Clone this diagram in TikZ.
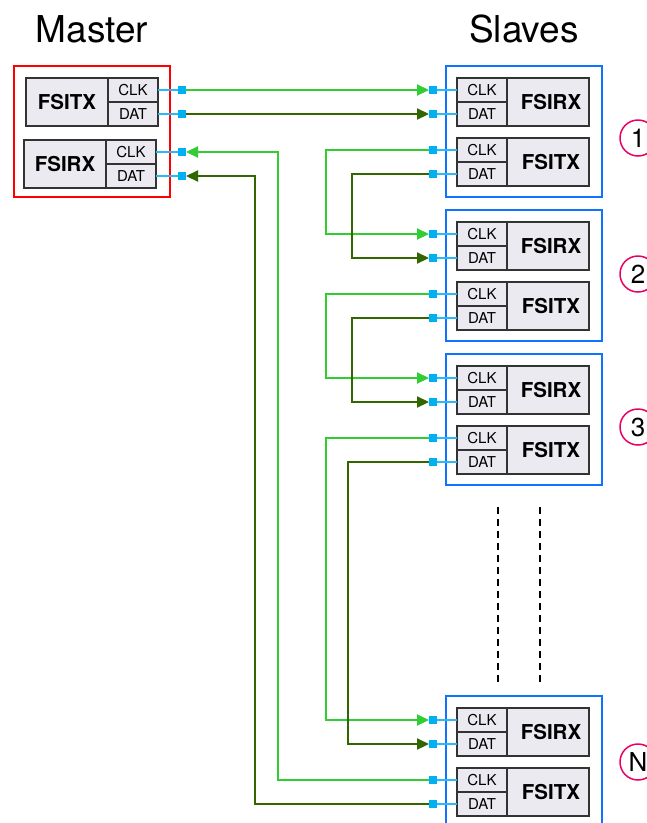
\documentclass[tikz,border=0pt]{standalone}
\usepackage{fontspec}
\setmainfont{TeX Gyre Heros}
\usetikzlibrary{arrows.meta,positioning}

\definecolor{blockfill}{RGB}{236,234,241}
\definecolor{clkgreen}{RGB}{50,205,50}
\definecolor{datgreen}{RGB}{51,102,0}
\definecolor{portblue}{RGB}{0,176,240}
\definecolor{stubblue}{RGB}{40,185,250}
\definecolor{slaveblue}{RGB}{15,115,255}
\definecolor{numred}{RGB}{232,0,100}

\begin{document}
\begin{tikzpicture}[x=1pt, y=-1pt,
    outer box/.style={draw, line width=2pt, minimum width=156pt, minimum height=131pt, inner sep=0pt, outer sep=0pt},
    name box/.style={draw=black!80, fill=blockfill, line width=1.1pt, minimum width=82pt, minimum height=48pt, inner sep=0pt, outer sep=0pt, font=\fontsize{20.5}{20.5}\selectfont\bfseries},
    sig/.style={draw=black!80, fill=blockfill, line width=1.1pt, minimum width=50pt, minimum height=24pt, inner sep=0pt, outer sep=0pt, font=\fontsize{15}{15}\selectfont},
    port/.style={fill=portblue, minimum size=8pt, inner sep=0pt, outer sep=0pt},
    stub/.style={stubblue, line width=1.3pt},
    clkwire/.style={clkgreen, line width=2.2pt},
    datwire/.style={datgreen, line width=2.2pt},
    arrow/.style={-{Triangle[length=12pt,width=11pt]}},
    num/.style={circle, draw=numred, line width=1.5pt, minimum size=36pt, inner sep=0pt, font=\fontsize{26}{26}\selectfont}
]
  \clip (0,0) rectangle (647,823);

  % Titles
  \node[anchor=base, font=\fontsize{37}{37}\selectfont] (master_title) at (92,42) {Master};
  \node[anchor=base, font=\fontsize{37}{37}\selectfont] (slaves_title) at (524,42) {Slaves};

  % Master side
  \node[outer box, draw=red] (master) at (92,131.5) {};
  \node[name box] (m_tx) at (67,102) {FSITX};
  \node[sig, anchor=north west] (m_tx_clk) at (m_tx.north east) {CLK};
  \node[sig, anchor=north] (m_tx_dat) at (m_tx_clk.south) {DAT};
  \node[name box] (m_rx) at (65,164) {FSIRX};
  \node[sig, anchor=north west] (m_rx_clk) at (m_rx.north east) {CLK};
  \node[sig, anchor=north] (m_rx_dat) at (m_rx_clk.south) {DAT};

  \node[port] (p_m_tx_clk) at (182,90) {};
  \node[port] (p_m_tx_dat) at (182,114) {};
  \node[port] (p_m_rx_clk) at (182,152) {};
  \node[port] (p_m_rx_dat) at (182,176) {};
  \draw[stub] (m_tx_clk.east) -- (p_m_tx_clk);
  \draw[stub] (m_tx_dat.east) -- (p_m_tx_dat);
  \draw[stub] (m_rx_clk.east) -- (p_m_rx_clk);
  \draw[stub] (m_rx_dat.east) -- (p_m_rx_dat);

  % Slave side
  \foreach \n/\y/\c in {1/0/138, 2/144/274, 3/288/427, N/630/762} {
    \node[outer box, draw=slaveblue] (s\n) at (523.5,131.5+\y) {};
    \node[sig] (s\n_rx_clk) at (482,90+\y) {CLK};
    \node[sig, anchor=north] (s\n_rx_dat) at (s\n_rx_clk.south) {DAT};
    \node[name box, anchor=north west, xshift=0pt] (s\n_rx) at (s\n_rx_clk.north east) {\hspace{6pt}FSIRX};
    \node[sig] (s\n_tx_clk) at (482,150+\y) {CLK};
    \node[sig, anchor=north] (s\n_tx_dat) at (s\n_tx_clk.south) {DAT};
    \node[name box, anchor=north west] (s\n_tx) at (s\n_tx_clk.north east) {\hspace{6pt}FSITX};
    \node[port] (p_s\n_rx_clk) at (433,90+\y) {};
    \node[port] (p_s\n_rx_dat) at (433,114+\y) {};
    \node[port] (p_s\n_tx_clk) at (433,150+\y) {};
    \node[port] (p_s\n_tx_dat) at (433,174+\y) {};
    \draw[stub] (p_s\n_rx_clk) -- (s\n_rx_clk.west);
    \draw[stub] (p_s\n_rx_dat) -- (s\n_rx_dat.west);
    \draw[stub] (p_s\n_tx_clk) -- (s\n_tx_clk.west);
    \draw[stub] (p_s\n_tx_dat) -- (s\n_tx_dat.west);
    \node[num] (num\n) at (638,\c) {\n};
  }

  % Daisy chain
  \draw[clkwire, arrow] (p_m_tx_clk) -- (p_s1_rx_clk);
  \draw[datwire, arrow] (p_m_tx_dat) -- (p_s1_rx_dat);
  \draw[clkwire, arrow] (p_s1_tx_clk) -- ++(-107,0) |- (p_s2_rx_clk);
  \draw[datwire, arrow] (p_s1_tx_dat) -- ++(-81,0) |- (p_s2_rx_dat);
  \draw[clkwire, arrow] (p_s2_tx_clk) -- ++(-107,0) |- (p_s3_rx_clk);
  \draw[datwire, arrow] (p_s2_tx_dat) -- ++(-81,0) |- (p_s3_rx_dat);
  \draw[clkwire, arrow] (p_s3_tx_clk) -- ++(-107,0) |- (p_sN_rx_clk);
  \draw[datwire, arrow] (p_s3_tx_dat) -- ++(-85,0) |- (p_sN_rx_dat);

  % Back to master
  \draw[clkwire, arrow] (p_sN_tx_clk) -- ++(-155,0) |- (p_m_rx_clk);
  \draw[datwire, arrow] (p_sN_tx_dat) -- ++(-178,0) |- (p_m_rx_dat);

  % Gap between slave 3 and slave N
  \draw[line width=2pt, dash pattern=on 7pt off 5pt] (498,507) -- (498,683);
  \draw[line width=2pt, dash pattern=on 7pt off 5pt] (540,507) -- (540,683);

\end{tikzpicture}
\end{document}
